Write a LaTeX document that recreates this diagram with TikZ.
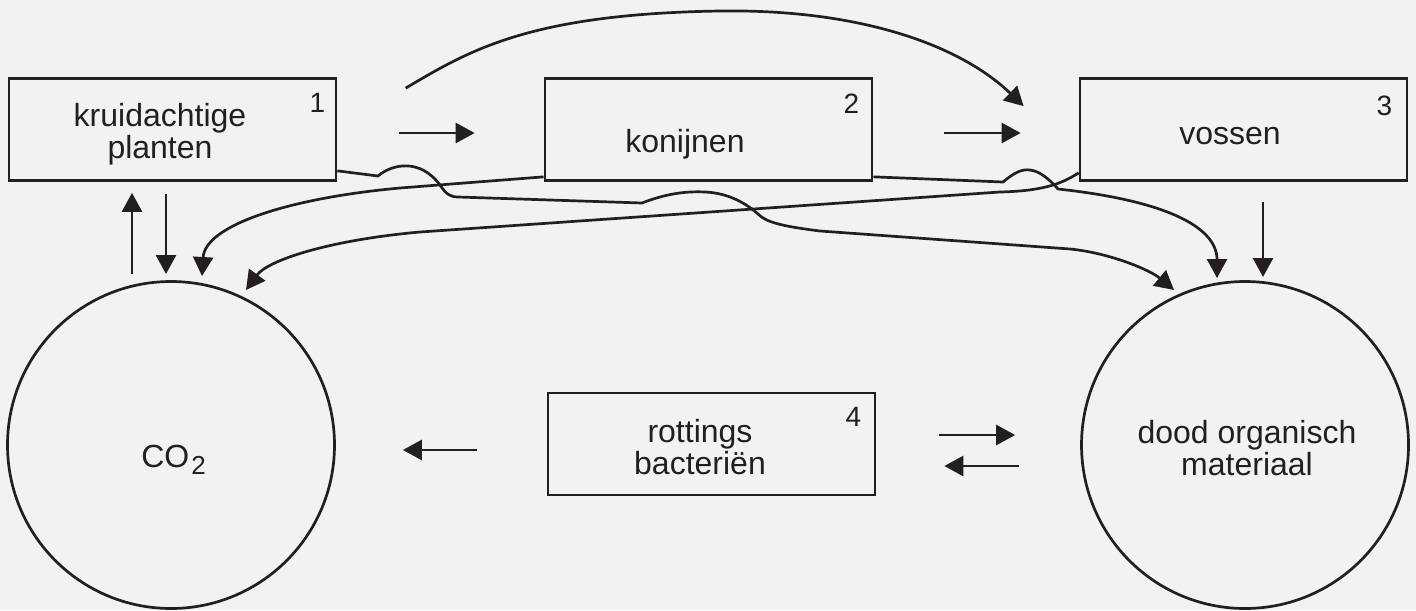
\documentclass[tikz,border=0pt]{standalone}
\usepackage{fontspec}
\setmainfont{Liberation Sans}
\usetikzlibrary{arrows.meta,calc}
\definecolor{bg}{HTML}{F2F2F2}
\definecolor{ink}{HTML}{231F20}
\begin{document}
\begin{tikzpicture}[x=0.5pt,y=-0.5pt,
  box/.style={draw=ink, line width=1.35pt, minimum width=163.5pt, minimum height=51pt, inner sep=0pt},
  blob/.style={circle, draw=ink, line width=1.35pt, minimum size=163.5pt, inner sep=0pt},
  lbl/.style={font=\fontsize{16pt}{16pt}\selectfont, text=ink, align=center, inner sep=0pt},
  num/.style={font=\fontsize{14pt}{14pt}\selectfont, text=ink, inner sep=0pt},
  conn/.style={draw=ink, line width=1.35pt, -{Triangle[length=9.5pt,width=10pt]}}]
\fill[bg, use as bounding box] (0,0) rectangle (1416,610);
% boxes
\node[box] (b1) at (172.5,129.5) {};
\node[box] (b2) at (708.5,129.5) {};
\node[box] (b3) at (1243.5,129.5) {};
\node[box] (b4) at (711.5,444) {};
% circles
\node[blob] (c) at (171,445) {};
\node[blob] (d) at (1245,445) {};
% texts
\node[lbl] (t1) at (160,134) {kruidachtige\\planten};
\node[lbl] (t2) at (685,144) {konijnen};
\node[lbl] (t3) at (1230,136) {vossen};
\node[lbl] (t4) at (700,447) {rottings\\bacteriën};
\node[lbl] (tc) at (173.5,460) {CO\kern1pt\raisebox{-3.5pt}{\fontsize{13pt}{13pt}\selectfont 2}};
\node[lbl] (td) at (1247,448) {dood organisch\\materiaal};
\node[num] (n1) at ($(b1.north east)+(-20,26)$) {1};
\node[num] (n2) at ($(b2.north east)+(-22,27)$) {2};
\node[num] (n3) at ($(b3.north east)+(-24,29)$) {3};
\node[num] (n4) at ($(b4.north east)+(-23,25)$) {4};
% horizontal arrows between boxes
\draw[conn] ($(b1.east)+(62,3.5)$) -- ($(b2.west)+(-69,3.5)$);
\draw[conn] ($(b2.east)+(71,3.5)$) -- ($(b3.west)+(-58,3.5)$);
% arc from plants to foxes
\draw[conn] ($(b2.north west)+(-138,11)$) .. controls (470,50) and (530,14) .. (720,11)
  .. controls (860,9) and (960,45) .. ($(b3.north west)+(-55,29)$);
% plants <-> CO2
\draw[conn] ($(c.center)+(-39,-171)$) -- ($(b1.south)+(-40.5,11)$);
\draw[conn] ($(b1.south)+(-6.5,12)$) -- ($(c.center)+(-5,-171)$);
% rabbits -> CO2
\draw[conn] ($(b2.south west)+(0,-5)$) -- (400,188) .. controls (290,198) and (205,225) .. ($(c.center)+(31,-169)$);
% foxes -> CO2
\draw[conn] ($(b3.south west)+(0,-9)$) .. controls (1060,185) and (1040,191) .. (1000,192)
  -- (420,232) .. controls (330,240) and (268,260) .. ($(c.center)+(75,-155)$);
% plants -> dead material
\draw[conn] ($(b1.south east)+(0,-11)$) -- (378,176) .. controls (392,164) and (420,158) .. (440,185)
  .. controls (446,194) and (450,197) .. (458,197) -- (642,203)
  .. controls (665,194) and (685,191) .. (705,192)
  .. controls (730,193) and (748,205) .. (758,214)
  .. controls (766,222) and (780,226) .. (820,231) -- (1070,249)
  .. controls (1110,253) and (1150,270) .. ($(d.center)+(-71,-155)$);
% rabbits -> dead material
\draw[conn] ($(b2.south east)+(0,-5)$) -- (1003,182) .. controls (1015,172) and (1022,169) .. (1030,170)
  .. controls (1040,171) and (1050,180) .. (1058,189)
  .. controls (1160,200) and (1217,225) .. ($(d.center)+(-28,-167)$);
% foxes -> dead material
\draw[conn] ($(b3.south)+(19.5,20)$) -- ($(d.center)+(18,-168)$);
% decomposers
\draw[conn] ($(b4.west)+(-70,6)$) -- ($(c.east)+(67,5)$);
\draw[conn] ($(b4.east)+(63,-9)$) -- ($(d.west)+(-65,-10)$);
\draw[conn] ($(d.west)+(-61,21)$) -- ($(b4.east)+(68,22)$);
\end{tikzpicture}
\end{document}
